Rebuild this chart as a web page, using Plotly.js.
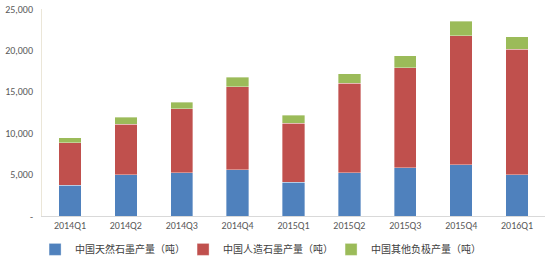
<!DOCTYPE html>
<html>
<head>
<meta charset="utf-8">
<script src="https://cdn.plot.ly/plotly-3.0.1.min.js"></script>
<style>html,body{margin:0;padding:0;background:#fff;}#chart{width:548px;height:261px;}</style>
</head>
<body>
<div id="chart"></div>
<script>
const categories = ['2014Q1','2014Q2','2014Q3','2014Q4','2015Q1','2015Q2','2015Q3','2015Q4','2016Q1'];
const naturalGraphite = [3700, 4960, 5200, 5600, 4070, 5200, 5840, 6170, 4960];
const artificialGraphite = [5120, 6140, 7750, 10040, 7160, 10850, 12090, 15610, 15190];
const otherAnode = [640, 800, 810, 1130, 960, 1120, 1410, 1740, 1510];
const seriesNames = ['中国天然石墨产量（吨）', '中国人造石墨产量（吨）', '中国其他负极产量（吨）'];
const yTickVals = [0, 5000, 10000, 15000, 20000, 25000];
const yTickText = ['-', '5,000', '10,000', '15,000', '20,000', '25,000'];

const colors = ['#4F81BD', '#C0504D', '#9BBB59'];
const seriesData = [naturalGraphite, artificialGraphite, otherAnode];
const traces = seriesData.map((vals, i) => ({
  type: 'bar',
  x: categories,
  y: vals,
  name: seriesNames[i],
  marker: {color: colors[i], line: {color: 'rgba(255,255,255,0.6)', width: 0.6}},
  hoverinfo: 'x+y+name'
}));

const layout = {
  width: 548,
  height: 261,
  barmode: 'stack',
  bargap: 0.6,
  margin: {l: 42, r: 3, t: 9, b: 45},
  paper_bgcolor: '#ffffff',
  plot_bgcolor: '#ffffff',
  font: {family: 'Calibri, "Liberation Sans", "Noto Sans CJK SC", sans-serif', size: 10, color: '#595959'},
  xaxis: {
    type: 'category',
    showline: true,
    linecolor: '#d9d9d9',
    linewidth: 1,
    ticks: '',
    showgrid: false,
    tickfont: {size: 10, color: '#595959'},
    automargin: false
  },
  yaxis: {
    range: [0, 25000],
    tickvals: yTickVals,
    ticktext: yTickText,
    showline: true,
    linecolor: '#ebe6d8',
    linewidth: 1,
    showgrid: false,
    zeroline: false,
    ticks: 'outside',
    ticklen: 6,
    tickcolor: 'rgba(0,0,0,0)',
    tickfont: {size: 10, color: '#595959'},
    automargin: false
  },
  legend: {
    orientation: 'h',
    xref: 'container',
    yref: 'container',
    x: 0.064,
    xanchor: 'left',
    y: 0.1,
    yanchor: 'top',
    font: {family: '"Noto Sans CJK SC", sans-serif', size: 10, color: '#404040'},
    traceorder: 'normal',
    entrywidth: 103,
    entrywidthmode: 'pixels',
    itemwidth: 30
  },
  showlegend: true
};

Plotly.newPlot('chart', traces, layout, {displayModeBar: false, staticPlot: true});
</script>
</body>
</html>
